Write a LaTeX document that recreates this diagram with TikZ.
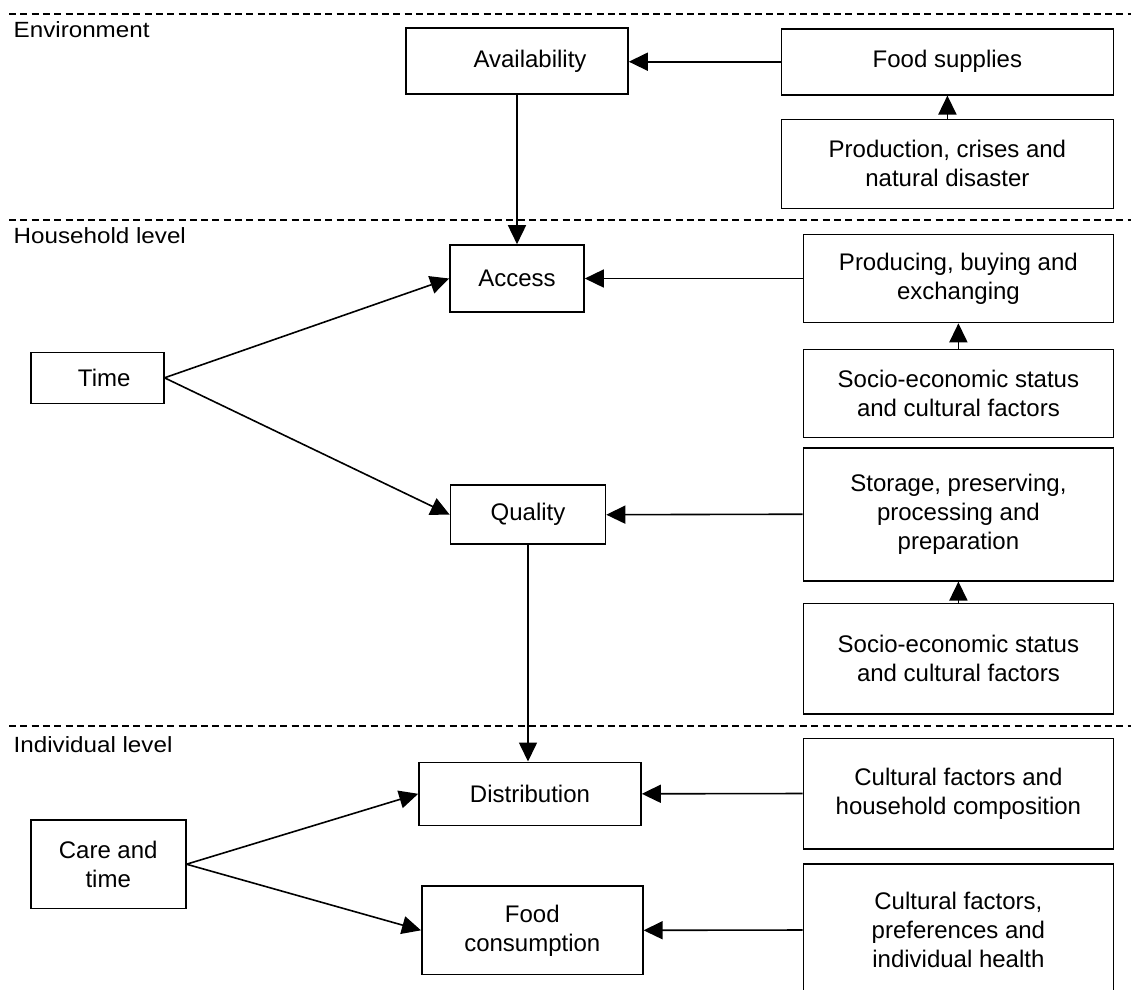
\documentclass[tikz,border=0pt]{standalone}
\usepackage{fontspec}
\setmainfont{Liberation Sans}
\usepackage{graphicx}
\usetikzlibrary{arrows.meta}
\begin{document}
\begin{tikzpicture}[x=1pt,y=-1pt,
  box/.style={draw=black, line width=1.6pt, inner sep=0pt, align=center,
    font=\fontsize{24}{29}\selectfont},
  link/.style={line width=1.6pt, -{Triangle[length=19pt,width=18pt]}},
  divider/.style={line width=1.4pt, dash pattern=on 7pt off 4.3pt},
  levellabel/.style={anchor=base west, inner sep=0pt,
    font=\fontsize{22}{26}\selectfont}]
\clip (0,0) rectangle (1131,989);
\fill[white] (0,0) rectangle (1131,989);

% level dividers and their labels
\draw[divider] (9,14) -- (1131,14);
\draw[divider] (9,220) -- (1131,220);
\draw[divider] (9,726) -- (1131,726);
\node[levellabel] (lenv) at (13.5,37) {\scalebox{1.1}[1]{Environment}};
\node[levellabel] (lhh) at (13.5,243) {\scalebox{1.1}[1]{Household level}};
\node[levellabel] (lind) at (13.5,752.5) {\scalebox{1.1}[1]{Individual level}};

% environment
\node[box, minimum width=222pt, minimum height=66pt] (avail) at (517,61.2) {\hspace*{26pt}Availability};
\node[box, minimum width=332pt, minimum height=66pt] (supply) at (947.4,61.7) {Food supplies};
\node[box, minimum width=332pt, minimum height=89pt] (prod) at (947.4,163.8) {Production, crises and\\natural disaster};

% household level
\node[box, minimum width=134pt, minimum height=67pt] (access) at (517,278.5) {Access};
\node[box, minimum width=310pt, minimum height=88pt] (produce) at (958.4,278.5) {Producing, buying and\\exchanging};
\node[box, minimum width=310pt, minimum height=88pt] (socioA) at (958.4,393.5) {Socio-economic status\\and cultural factors};
\node[box, minimum width=133pt, minimum height=51pt] (time) at (97.2,377.8) {\hspace*{14pt}Time};
\node[box, minimum width=155pt, minimum height=59pt] (quality) at (528,514.7) {Quality};
\node[box, minimum width=310pt, minimum height=133pt] (store) at (958.4,514.2) {Storage, preserving,\\processing and\\preparation};
\node[box, minimum width=310pt, minimum height=110.7pt] (socioB) at (958.4,658.7) {Socio-economic status\\and cultural factors};

% individual level
\node[box, minimum width=222pt, minimum height=63pt] (distr) at (530,793.8) {Distribution};
\node[box, minimum width=221pt, minimum height=88.7pt] (consume) at (532.3,930.3) {Food\\consumption};
\node[box, minimum width=310pt, minimum height=110.4pt] (cultA) at (958.4,793.5) {Cultural factors and\\household composition};
\node[box, minimum width=310pt, minimum height=132pt] (cultB) at (958.4,930) {Cultural factors,\\preferences and\\individual health};
\node[box, minimum width=155pt, minimum height=88.3pt] (care) at (108.2,864.2) {Care and\\time};

% connectors
\draw[link] (supply.west) -- (supply.west -| avail.east);
\draw[link] (prod.north) -- (supply.south);
\draw[link] (avail.south) -- (access.north);
\draw[link] (produce.west) -- (access.east);
\draw[link] (socioA.north) -- (produce.south);
\draw[link] (time.east) -- (access.west);
\draw[link] (time.east) -- (quality.west);
\draw[link] (store.west) -- (quality.east);
\draw[link] (socioB.north) -- (store.south);
\draw[link] (quality.south) -- (quality.south |- distr.north);
\draw[link] (cultA.west) -- (distr.east);
\draw[link] (cultB.west) -- (consume.east);
\draw[link] (care.east) -- (distr.west);
\draw[link] (care.east) -- (consume.west);
\end{tikzpicture}
\end{document}
